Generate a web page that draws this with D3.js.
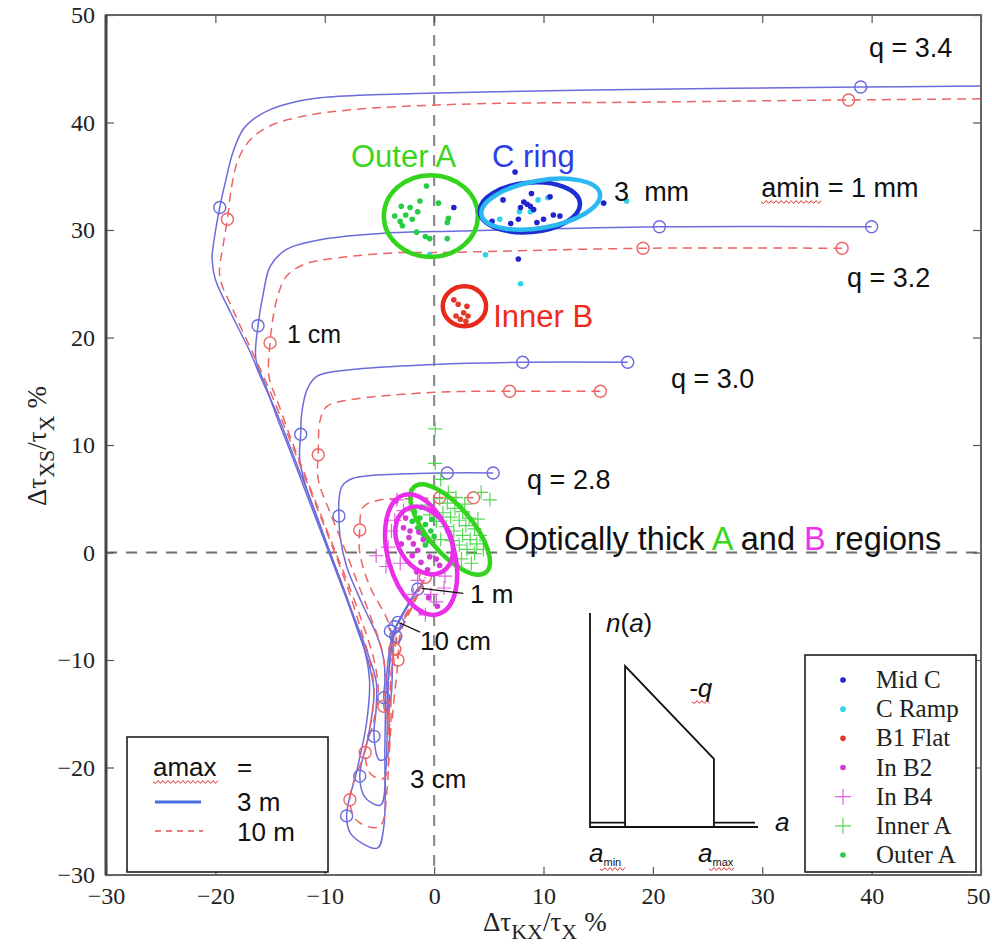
<!DOCTYPE html>
<html lang="en">
<head>
<meta charset="UTF-8">
<title>Delta tau chart</title>
<script src="https://d3js.org/d3.v7.min.js"></script>
<style>
  body { margin: 0; background: #fff; }
  svg { display: block; }
</style>
</head>
<body>
<script>
const width = 992, height = 952;
const margin = {top: 15, right: 11, bottom: 77, left: 106};

const xTicks = [-30, -20, -10, 0, 10, 20, 30, 40, 50];
const yTicks = [-30, -20, -10, 0, 10, 20, 30, 40, 50];

// model curves, amax = 3 m (solid blue)
const blue34 = [[50,43.4],[39,43.3],[20,43.1],[2.4,42.8],[-5,42.6],[-10.4,42.3],[-13.2,41.8],[-15.0,41.2],[-16.4,40.4],[-17.5,39.3],[-18.4,37.2],[-19.1,34.4],[-19.6,32.1],[-20.2,28.5],[-20.3,27.3],[-20.0,25.4],[-18.6,22.3],[-16.8,18.6],[-15.9,16.4],[-14.4,13.0],[-13.2,9.9],[-11.9,6.5],[-10.7,3.3],[-9.6,0.2],[-8.4,-3.0],[-7.2,-6.5],[-6.3,-9.3],[-5.9,-12],[-6.2,-16],[-7.0,-20],[-8.0,-24.5],[-7.6,-26.2],[-5.2,-27.5],[-4.6,-25.5],[-4.5,-18],[-4.3,-11],[-3.8,-7.6],[-3.4,-6.7],[-2.5,-5],[-1.5,-3.4],[-1.1,-3.0]];
const blue32 = [[40.0,30.3],[20.6,30.3],[2.4,29.9],[-4.6,29.7],[-10.4,29.1],[-13.5,28.2],[-15.0,26.6],[-15.6,24.2],[-16.1,21.1],[-16.3,18.0],[-15.4,15.5],[-14.3,12.4],[-13.0,9.0],[-11.8,5.8],[-10.6,2.6],[-9.4,-0.6],[-8.2,-3.8],[-7.0,-7.2],[-6.0,-10.2],[-5.5,-13],[-6.0,-17],[-6.8,-20.8],[-6.3,-22.8],[-4.9,-23.5],[-4.4,-20],[-4.2,-12],[-3.7,-7.5],[-3.3,-6.5],[-2.4,-4.9],[-1.4,-3.3],[-1.1,-3.0]];
const blue30 = [[17.7,17.7],[8.1,17.7],[0,17.5],[-7.7,17.0],[-10.7,16.4],[-11.6,15.2],[-12.1,13.0],[-12.2,11.0],[-12.3,8.8],[-11.8,6.4],[-10.9,3.8],[-9.8,0.8],[-8.6,-2.5],[-7.4,-5.8],[-6.2,-9],[-5.3,-12],[-5.3,-14.5],[-5.5,-17.1],[-5.0,-19.3],[-4.3,-19],[-4.2,-12],[-3.6,-7.3],[-3.2,-6.4],[-2.3,-4.8],[-1.4,-3.3],[-1.1,-3.0]];
const blue28 = [[5.4,7.4],[1.2,7.4],[-3,7.3],[-7.4,6.9],[-8.4,6.2],[-8.7,4.9],[-8.7,3.4],[-8.6,1.5],[-8.0,-1.3],[-7.0,-3.8],[-6.2,-5.6],[-5.2,-7.8],[-4.6,-10],[-4.5,-12],[-4.6,-13.5],[-4.2,-15],[-3.9,-13],[-3.6,-7.2],[-3.1,-6.2],[-2.2,-4.6],[-1.4,-3.3],[-1.1,-3.0]];

// model curves, amax = 10 m (dashed red)
const red34 = [[50,42.2],[37.9,42.1],[20,41.9],[2.4,41.7],[-7.4,41.2],[-11.9,40.6],[-15.0,39.7],[-16.8,38.4],[-17.9,36.6],[-18.5,34.1],[-18.9,31.0],[-19.3,28.5],[-19.6,25.7],[-18.4,22.6],[-16.6,18.6],[-15.0,15.0],[-13.6,11.5],[-12.2,8],[-10.8,4.4],[-9.4,0.8],[-8.0,-3],[-6.8,-6.8],[-5.9,-10],[-5.5,-13],[-6.2,-18],[-7.7,-23.0],[-7.0,-25],[-5.0,-25.5],[-4.3,-22],[-4.1,-14],[-3.6,-8.5],[-3.0,-6.6],[-1.8,-4.3],[-0.8,-2.3]];
const red32 = [[37.3,28.3],[19.1,28.3],[0,27.9],[-3.1,27.9],[-8.9,27.4],[-11.9,26.8],[-13.5,25.7],[-14.2,24.2],[-14.7,22.0],[-15.0,19.5],[-15.1,16.4],[-14.3,14],[-13.1,10.6],[-11.8,7.2],[-10.4,3.6],[-9.0,0],[-7.6,-3.6],[-6.4,-7],[-5.5,-10],[-5.1,-13],[-5.6,-16],[-6.3,-18.6],[-5.8,-20.6],[-4.6,-21],[-4.0,-17],[-3.9,-11],[-3.4,-8],[-2.8,-6.4],[-1.7,-4.2],[-0.8,-2.3]];
const red30 = [[15.2,15.0],[6.9,15.0],[0,14.9],[-7.7,14.2],[-9.8,13.6],[-10.4,12.4],[-10.6,9.1],[-10.6,6.8],[-9.5,3.7],[-8.2,0.4],[-7.0,-2.8],[-5.8,-6],[-4.8,-9],[-4.4,-12],[-4.6,-14.3],[-4.0,-16],[-3.6,-13],[-3.3,-10.0],[-3.1,-7.5],[-2.6,-6.2],[-1.6,-4.1],[-0.8,-2.3]];
const red28 = [[3.6,5.1],[0.5,5.1],[-2,5.0],[-4.9,4.9],[-6.5,4.2],[-6.8,2.1],[-6.8,0],[-5.9,-3.1],[-4.3,-6.2],[-3.8,-8],[-3.6,-10.5],[-3.3,-9.5],[-3.0,-7.2],[-2.4,-5.9],[-1.5,-4.0],[-0.8,-2.3]];

// amin markers along the curves
const blueMarks = [[39,43.3],[-19.6,32.1],[-8.0,-24.5],[40.0,30.3],[20.6,30.3],[-16.1,21.1],[-6.8,-20.8],[17.7,17.7],[8.1,17.7],[-12.2,11.0],[-5.5,-17.1],[5.4,7.4],[1.2,7.4],[-8.7,3.4],[-4.6,-13.5],[-4.0,-7.3],[-3.6,-6.9],[-3.3,-6.5],[-3.5,-7.8],[-1.5,-3.4]];
const redMarks = [[37.9,42.1],[-18.9,31.0],[-7.7,-23.0],[37.3,28.3],[19.1,28.3],[-15.0,19.5],[-6.3,-18.6],[15.2,15.0],[6.9,15.0],[-10.6,9.1],[-4.6,-14.3],[-3.3,-10.0],[3.6,5.1],[0.5,5.1],[-6.8,2.1],[-3.6,-9.0],[-0.8,-2.3]];

// observed regions
const midC = [[7.4,35.4],[6.3,32.8],[8.9,33.4],[8.2,32.6],[8.5,32.4],[8.8,32.2],[7.9,32.1],[9.1,31.9],[10.6,33.1],[10.9,31.4],[10.0,31.0],[7.7,31.0],[7.0,30.6],[5.3,30.8],[9.4,30.7],[11.5,31.3],[15.5,32.5],[7.7,27.3],[1.8,32.1]];
const cRamp = [[9.5,32.8],[10.4,33.0],[8.8,31.7],[7.8,31.7],[6.0,31.0],[4.7,27.7],[7.9,25.0],[17.6,32.7],[-0.4,27.7]];
const b1Flat = [[1.8,23.5],[2.2,23.1],[3.0,22.9],[2.7,22.3],[2.4,21.7],[3.1,22.0],[2.9,21.5],[2.0,22.0]];
const inB2 = [[-2.8,2.3],[-2.3,1.4],[-1.9,0.8],[-1.5,0.2],[-1.0,1.2],[-0.4,-0.4],[0.2,-0.6],[-1.2,-0.9],[-2.0,-0.3],[-3.0,0.8],[-2.6,3.2],[-0.6,-1.6],[0.5,-1.2],[-1.6,-1.8],[-3.5,4.8],[-0.5,-4.2],[0.3,-5.0],[-1.2,-5.5],[-2.2,2.0],[-1.4,1.9]];
const inB4 = [[-5.3,-0.3],[-4.4,-1.3],[-3.4,4.9],[-2.8,3.9],[-0.3,-3.9],[0.2,-4.6],[-0.8,-5.8],[0.9,-3.3],[-1.5,-2.6],[-3.9,2.0],[-4.2,0.5],[-2.2,5.3],[1.0,-2.2],[-3.1,-1.0],[-3.6,3.0],[-1.9,-3.9]];
const innerA = [[0.1,11.5],[0.1,8.3],[0.6,6.8],[5.1,4.9],[4.3,5.6],[0.5,5.0],[1.2,4.6],[1.9,4.1],[2.6,3.8],[3.2,3.2],[0.8,3.7],[1.5,3.3],[2.3,3.0],[2.9,2.5],[3.7,2.2],[4.2,1.6],[1.1,2.4],[1.8,2.0],[2.6,1.6],[3.3,1.2],[3.9,0.8],[4.5,0.3],[1.6,1.1],[2.3,0.7],[3.0,0.3],[3.7,-0.1],[0.2,2.9],[-0.4,3.5],[0.6,1.2],[2.5,-0.6],[3.4,-1.0],[4.0,3.1],[2.0,5.1],[1.3,5.6],[-0.6,4.4],[2.8,4.5]];
const outerA = [[-0.7,34.1],[-1.3,32.7],[-3.0,32.2],[-2.2,32.1],[-1.5,31.7],[-2.6,31.4],[-3.6,31.3],[-2.0,31.0],[-3.1,30.8],[-2.9,30.4],[0.4,32.5],[1.3,31.1],[1.2,30.7],[-1.6,29.8],[-0.8,29.4],[-0.4,29.2],[1.2,29.2],[-1.8,3.8],[-1.3,3.2],[-0.8,2.6],[-0.3,2.0],[-2.0,2.9],[-1.5,2.3],[-1.0,1.7],[-0.5,1.1],[-1.2,4.2],[0.0,1.5],[-0.2,3.1],[-0.8,0.7]];

// region outlines: [cx, cy, rx, ry, angle]
const outerAEllipse = [-0.3, 31.3, 4.3, 3.8, 0];
const cRingEllipse = [8.75, 32.1, 4.6, 2.3, -5];
const cRampEllipse = [9.75, 32.4, 5.5, 2.2, -10];
const innerBEllipse = [2.77, 22.9, 1.98, 1.86, 0];
const thickAEllipse = [1.46, 2.14, 5.1, 2.1, 50];
const thickBEllipse1 = [-1.19, -0.19, 5.67, 3.07, 74];
const thickBEllipse2 = [-0.91, 1.12, 3.3, 2.42, 60];

const legendNames = ["Mid C", "C Ramp", "B1 Flat", "In B2", "In B4", "Inner A", "Outer A"];

// inset: size distribution n(a), a power law between amin and amax
const insetDist = [[0,0.02],[1.05,0.02],[1.05,0],[1.05,0.752],[3.71,0.318],[3.71,0],[3.71,0.02],[4.94,0.02]];
const insetAxes = [[0,1],[0,0],[5.03,0]];

const x = d3.scaleLinear().domain([-30, 50]).range([margin.left, width - margin.right]);
const y = d3.scaleLinear().domain([-30, 50]).range([height - margin.bottom, margin.top]);

const svg = d3.select("body").append("svg")
    .attr("width", width).attr("height", height)
    .style("font-family", "'Liberation Sans', Arial, sans-serif");

svg.append("defs").append("clipPath").attr("id", "plot")
  .append("rect").attr("x", x(-30)).attr("y", y(50))
  .attr("width", x(50) - x(-30)).attr("height", y(-30) - y(50));

// zero lines
svg.append("line").attr("x1", x(0)).attr("x2", x(0)).attr("y1", y(50)).attr("y2", y(-30))
  .attr("stroke", "#8c8c8c").attr("stroke-width", 2.2).attr("stroke-dasharray", "11,9");
svg.append("line").attr("x1", x(-30)).attr("x2", x(50)).attr("y1", y(0)).attr("y2", y(0))
  .attr("stroke", "#6e6e6e").attr("stroke-width", 2.2).attr("stroke-dasharray", "11,9");

const plot = svg.append("g").attr("clip-path", "url(#plot)");
const line = d3.line().x(d => x(d[0])).y(d => y(d[1])).curve(d3.curveCatmullRom.alpha(0.5));

const blueColor = "#6b6bdc", redColor = "#ec6464";
[blue34, blue32, blue30, blue28].forEach(c => {
  plot.append("path").attr("d", line(c)).attr("fill", "none")
    .attr("stroke", blueColor).attr("stroke-width", 1.5);
});
[red34, red32, red30, red28].forEach(c => {
  plot.append("path").attr("d", line(c)).attr("fill", "none")
    .attr("stroke", redColor).attr("stroke-width", 1.5).attr("stroke-dasharray", "9,6");
});

plot.selectAll(".bm").data(blueMarks).join("circle")
  .attr("cx", d => x(d[0])).attr("cy", d => y(d[1])).attr("r", 6)
  .attr("fill", "none").attr("stroke", blueColor).attr("stroke-width", 1.4);
plot.selectAll(".rm").data(redMarks).join("circle")
  .attr("cx", d => x(d[0])).attr("cy", d => y(d[1])).attr("r", 6)
  .attr("fill", "none").attr("stroke", redColor).attr("stroke-width", 1.4);

// data points
function dots(data, color, r) {
  plot.append("g").selectAll("circle").data(data).join("circle")
    .attr("cx", d => x(d[0])).attr("cy", d => y(d[1])).attr("r", r).attr("fill", color);
}
function pluses(data, color, s) {
  plot.append("g").selectAll("path").data(data).join("path")
    .attr("d", d => `M${x(d[0]) - s},${y(d[1])}h${2 * s}M${x(d[0])},${y(d[1]) - s}v${2 * s}`)
    .attr("stroke", color).attr("stroke-width", 1.2).attr("fill", "none");
}
const cols = {
  midC: "#2222cc", cRamp: "#2fd3ea", b1Flat: "#e23a28", inB2: "#d63ad6",
  inB4: "#e060e0", innerA: "#55d855", outerA: "#25cc45"
};
pluses(innerA, cols.innerA, 7);
pluses(inB4, cols.inB4, 7);
dots(outerA, cols.outerA, 2.8);
dots(inB2, cols.inB2, 2.8);
dots(b1Flat, cols.b1Flat, 2.8);
dots(cRamp, cols.cRamp, 2.8);
dots(midC, cols.midC, 2.8);

// region outlines
function ellipse(e, color) {
  const [cx, cy, rx, ry, ang] = e;
  plot.append("ellipse")
    .attr("transform", `translate(${x(cx)},${y(cy)}) rotate(${ang})`)
    .attr("rx", x(cx + rx) - x(cx)).attr("ry", y(cy - ry) - y(cy))
    .attr("fill", "none").attr("stroke", color).attr("stroke-width", 4.5);
}
ellipse(outerAEllipse, "#33d41c");
ellipse(cRingEllipse, "#1c30d2");
ellipse(cRampEllipse, "#2cb8f0");
ellipse(innerBEllipse, "#e8281a");
ellipse(thickAEllipse, "#33d41c");
ellipse(thickBEllipse1, "#ea2eea");
ellipse(thickBEllipse2, "#ea2eea");

// axes
const tickFont = "'Liberation Serif', 'Times New Roman', serif";
function styleAxis(g, labels) {
  g.select(".domain").remove();
  g.selectAll(".tick line").attr("stroke", "#555").attr("stroke-width", 1.2);
  if (labels) g.selectAll(".tick text").attr("font-family", tickFont).attr("font-size", 24).attr("fill", "#222");
  else g.selectAll(".tick text").remove();
}
svg.append("g").attr("transform", `translate(0,${y(-30)})`)
  .call(d3.axisBottom(x).tickValues(xTicks).tickSize(-8).tickPadding(12))
  .call(g => styleAxis(g, true))
  .call(g => g.selectAll(".tick text").filter(d => d === 50).attr("dx", -3));
svg.append("g").attr("transform", `translate(0,${y(50)})`)
  .call(d3.axisTop(x).tickValues(xTicks).tickSize(-8))
  .call(g => styleAxis(g, false));
svg.append("g").attr("transform", `translate(${x(-30)},0)`)
  .call(d3.axisLeft(y).tickValues(yTicks).tickSize(-8).tickPadding(11))
  .call(g => styleAxis(g, true));
svg.append("g").attr("transform", `translate(${x(50)},0)`)
  .call(d3.axisRight(y).tickValues(yTicks).tickSize(-8))
  .call(g => styleAxis(g, false));

svg.append("rect").attr("x", x(-30)).attr("y", y(50))
  .attr("width", x(50) - x(-30)).attr("height", y(-30) - y(50))
  .attr("fill", "none").attr("stroke", "#666").attr("stroke-width", 2);
svg.append("line").attr("x1", x(-30)).attr("x2", x(-30)).attr("y1", y(50)).attr("y2", y(-30))
  .attr("stroke", "#444").attr("stroke-width", 3);

// axis titles
const xt = svg.append("text").attr("x", 483).attr("y", 931)
  .attr("font-family", tickFont).attr("font-size", 27).attr("fill", "#222");
xt.append("tspan").text("Δτ");
xt.append("tspan").attr("dy", 8).attr("font-size", 22).text("KX");
xt.append("tspan").attr("dy", -8).text("/τ");
xt.append("tspan").attr("dy", 8).attr("font-size", 22).text("X");
xt.append("tspan").attr("dy", -8).attr("dx", 7).text("%");

const yt = svg.append("text").attr("transform", "translate(46,446) rotate(-90)")
  .attr("text-anchor", "middle")
  .attr("font-family", tickFont).attr("font-size", 27).attr("fill", "#222");
yt.append("tspan").text("Δτ");
yt.append("tspan").attr("dy", 8).attr("font-size", 22).text("XS");
yt.append("tspan").attr("dy", -8).text("/τ");
yt.append("tspan").attr("dy", 8).attr("font-size", 22).text("X");
yt.append("tspan").attr("dy", -8).attr("dx", 7).text("%");

// red spell-check underline
function squiggle(x0, x1, yy) {
  let d = `M${x0},${yy}`;
  for (let xx = x0, k = 0; xx < x1; xx += 2.5, k++) d += `L${xx + 2.5},${yy + (k % 2 ? -1.4 : 1.4)}`;
  svg.append("path").attr("d", d).attr("fill", "none").attr("stroke", "#e03030").attr("stroke-width", 1);
}

// annotations
function note(txt, dx, dy, size, color) {
  return svg.append("text").attr("x", x(dx)).attr("y", y(dy))
    .attr("font-size", size).attr("fill", color || "#111").text(txt);
}
note("q = 3.4", 39.76, 46.1, 27);
note("q = 3.2", 37.75, 24.7, 27);
note("q = 3.0", 21.65, 15.3, 27);
note("q = 2.8", 8.5, 5.9, 27);
note("3", 16.45, 32.7, 27);
note("mm", 19.2, 32.7, 27);
const amin = note("amin", 29.9, 33.07, 27);
const aminW = amin.node().getComputedTextLength();
svg.append("text").attr("x", x(29.9) + aminW + 8).attr("y", y(33.07))
  .attr("font-size", 27).attr("fill", "#111").text("= 1 mm");
squiggle(x(29.9), x(29.9) + aminW, y(33.07) + 5);
note("1 cm", -13.45, 19.5, 25);
note("1 m", 3.28, -4.7, 26);
note("10 cm", -1.29, -9.07, 26);
note("3 cm", -2.2, -21.9, 26);
note("Outer A", -7.6, 35.9, 31, "#3ad61e");
note("C ring", 5.3, 35.9, 31, "#2b3ee6");
note("Inner B", 5.4, 21.0, 31, "#f02a1a");
const opt = note("", 6.4, 0.23, 32.5);
opt.append("tspan").text("Optically thick ");
opt.append("tspan").attr("fill", "#3ad61e").text("A");
opt.append("tspan").text(" and ");
opt.append("tspan").attr("fill", "#ee33ee").text("B");
opt.append("tspan").text(" regions");

svg.append("line").attr("x1", x(-1.14)).attr("y1", y(-3.33)).attr("x2", x(2.67)).attr("y2", y(-3.8))
  .attr("stroke", "#111").attr("stroke-width", 1.3);
svg.append("line").attr("x1", x(-3.12)).attr("y1", y(-6.56)).attr("x2", x(-1.29)).attr("y2", y(-7.4))
  .attr("stroke", "#111").attr("stroke-width", 1.3);

// amax legend (bottom left)
const lg = svg.append("g");
lg.append("rect").attr("x", 127).attr("y", 737).attr("width", 201).attr("height", 135)
  .attr("fill", "#fff").attr("stroke", "#111").attr("stroke-width", 1.5);
const amaxT = lg.append("text").attr("x", 153).attr("y", 776).attr("font-size", 26).attr("fill", "#111").text("amax");
squiggle(153, 153 + amaxT.node().getComputedTextLength(), 782);
lg.append("text").attr("x", 237).attr("y", 776).attr("font-size", 26).attr("fill", "#111").text("=");
lg.append("line").attr("x1", 155).attr("x2", 201).attr("y1", 802).attr("y2", 802)
  .attr("stroke", "#4a6ee0").attr("stroke-width", 3);
lg.append("text").attr("x", 237).attr("y", 811).attr("font-size", 26).attr("fill", "#111").text("3 m");
lg.append("line").attr("x1", 155).attr("x2", 203).attr("y1", 831).attr("y2", 831)
  .attr("stroke", "#e05050").attr("stroke-width", 1.5).attr("stroke-dasharray", "6,5");
lg.append("text").attr("x", 237).attr("y", 841).attr("font-size", 26).attr("fill", "#111").text("10 m");

// symbol legend (bottom right)
const lr = svg.append("g");
lr.append("rect").attr("x", 805).attr("y", 655).attr("width", 171).attr("height", 217)
  .attr("fill", "#fff").attr("stroke", "#111").attr("stroke-width", 1.5);
const legCols = [cols.midC, cols.cRamp, cols.b1Flat, cols.inB2, cols.inB4, cols.innerA, cols.outerA];
const legPlus = [false, false, false, false, true, true, false];
const ly = d3.scalePoint().domain(legendNames).range([680, 855]);
legendNames.forEach((n, i) => {
  const yy = ly(n);
  if (legPlus[i]) {
    lr.append("path").attr("d", `M${835},${yy}h16M843,${yy - 8}v16`)
      .attr("stroke", legCols[i]).attr("stroke-width", 1.2);
  } else {
    lr.append("circle").attr("cx", 843).attr("cy", yy).attr("r", 2.8).attr("fill", legCols[i]);
  }
  lr.append("text").attr("x", 876).attr("y", yy + 8)
    .attr("font-family", tickFont).attr("font-size", 25).attr("fill", "#222").text(n);
});

// inset n(a)
const ix = d3.scaleLinear().domain([0, 5]).range([590, 757]);
const iy = d3.scaleLinear().domain([0, 1]).range([827, 613]);
const iline = d3.line().x(d => ix(d[0])).y(d => iy(d[1]));
svg.append("path").attr("d", iline(insetAxes)).attr("fill", "none").attr("stroke", "#111").attr("stroke-width", 1.8);
svg.append("path").attr("d", iline(insetDist)).attr("fill", "none").attr("stroke", "#111").attr("stroke-width", 1.8);
const na = svg.append("text").attr("x", 606).attr("y", 632).attr("font-size", 26).attr("fill", "#111");
na.append("tspan").attr("font-style", "italic").text("n");
na.append("tspan").text("(");
na.append("tspan").attr("font-style", "italic").text("a");
na.append("tspan").text(")");
svg.append("text").attr("x", 689).attr("y", 697).attr("font-size", 26).attr("fill", "#111")
  .attr("font-style", "italic").text("-q");
squiggle(692, 708, 702);
svg.append("text").attr("x", 775).attr("y", 831).attr("font-size", 26).attr("fill", "#111")
  .attr("font-style", "italic").text("a");
[["min", 589, 603], ["max", 698, 712]].forEach(([s, x0, x1]) => {
  const t = svg.append("text").attr("x", x0).attr("y", 862).attr("font-size", 26).attr("fill", "#111");
  t.append("tspan").attr("font-style", "italic").text("a");
  t.append("tspan").attr("font-size", 11).attr("dy", 4).text(s);
  squiggle(x1 - 3, x1 + 20, 869);
});
</script>
</body>
</html>
